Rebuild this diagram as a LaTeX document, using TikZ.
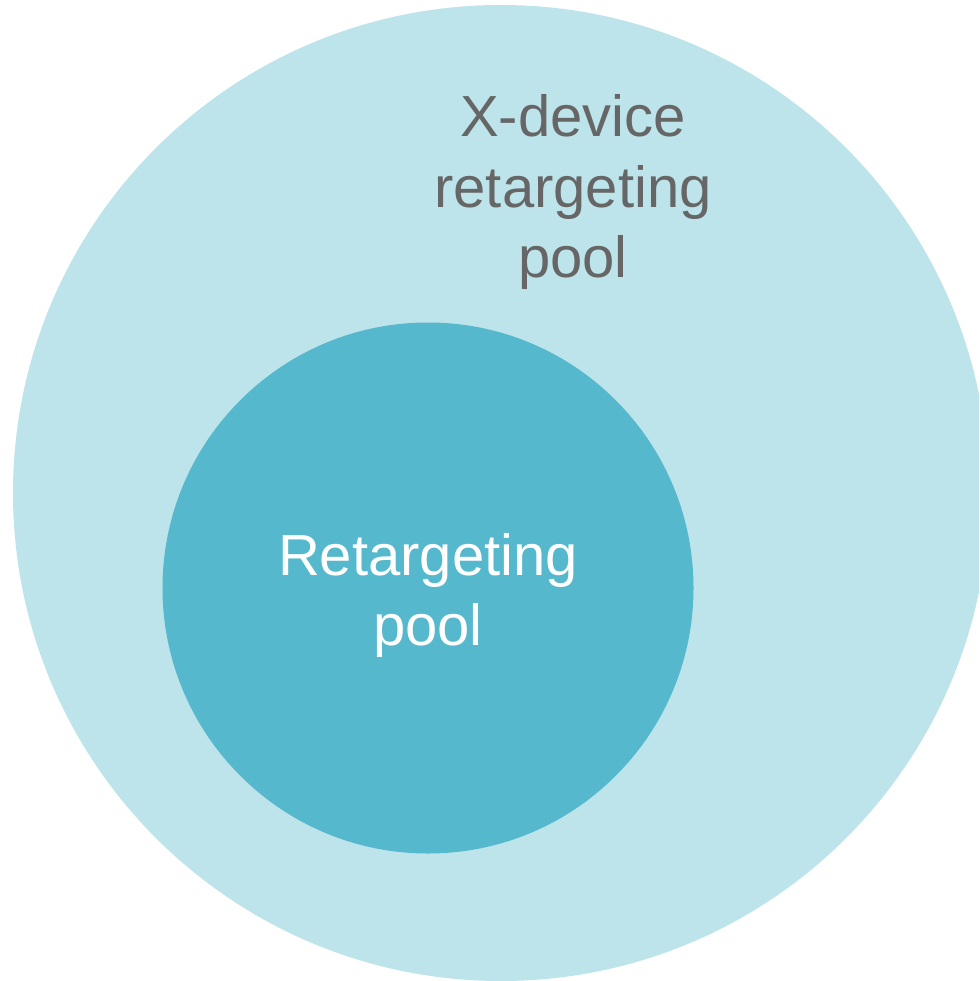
\documentclass[tikz,border=0pt]{standalone}
\usepackage{fontspec}
\setmainfont{Liberation Sans}
\usepackage{xcolor}
\definecolor{poolouter}{HTML}{BDE4EA}
\definecolor{poolinner}{HTML}{55B8CC}
\definecolor{pooltext}{HTML}{666666}
\begin{document}
\begin{tikzpicture}[x=1pt, y=-1pt]
\tikzstyle{pool} = [circle, inner sep=0pt]
\tikzstyle{poollabel} = [align=center, font=\fontsize{58}{70}\selectfont, inner sep=0pt, anchor=base]
\useasboundingbox (0, 0) rectangle (979, 981);
\begin{scope}
\clip (0, 0) rectangle (979, 981);
\node[pool, fill=poolouter, minimum size=976pt] (xdev) at (501, 493) {};
\end{scope}
\node[pool, fill=poolinner, minimum size=531pt] (retarget) at (428, 588) {};
% base anchor sits on the last line
\node[poollabel, text=pooltext] (xdevlabel) at (573, 277) {X-device\\retargeting\\pool};
\node[poollabel, text=white] (retargetlabel) at (428, 645) {Retargeting\\pool};
\end{tikzpicture}
\end{document}
